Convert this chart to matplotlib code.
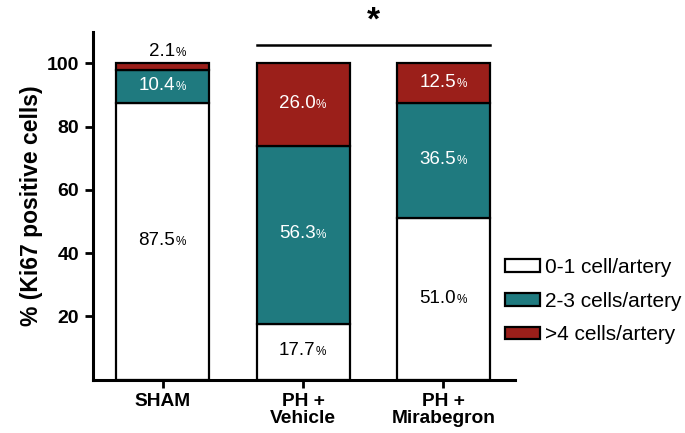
import matplotlib.pyplot as plt
import numpy as np

plt.rcParams['font.family'] = ['Liberation Sans', 'DejaVu Sans']

# groups and the share of arteries in each Ki67 class (%)
groups = ['SHAM', 'PH +\nVehicle', 'PH +\nMirabegron']
low = [87.5, 17.7, 51.0]     # 0-1 cell/artery
mid = [10.4, 56.3, 36.5]     # 2-3 cells/artery
high = [2.1, 26.0, 12.5]     # >4 cells/artery
series_names = ['0-1 cell/artery', '2-3 cells/artery', '>4 cells/artery']
yticks = [20, 40, 60, 80, 100]

colors = ['#ffffff', '#1f7a7f', '#9b1f1a']
txtcol = ['black', 'white', 'white']

fig = plt.figure(figsize=(6.85, 4.33), dpi=100)
ax = fig.add_axes([0.1358, 0.1233, 0.6162, 0.8035])

x = np.arange(len(groups))
w = 0.662
bottom = np.zeros(len(groups))
for vals, c, tc, name in zip([low, mid, high], colors, txtcol, series_names):
    vals = np.array(vals)
    ax.bar(x, vals, w, bottom=bottom, color=c, edgecolor='black',
           linewidth=1.6, label=name, zorder=2)
    for xi, b, v in zip(x, bottom, vals):
        if v < 5:
            # too thin for text inside, put it above the bar
            yy, col, dy = b + v, 'black', 5
        else:
            yy, col, dy = b + v / 2, tc, -2.6
        # number and a smaller % sign sharing one baseline
        ax.annotate('%.1f' % v, (xi, yy), xytext=(9, dy),
                    textcoords='offset points', color=col, fontsize=13.5,
                    ha='right', va='baseline')
        ax.annotate('%', (xi, yy), xytext=(9.3, dy),
                    textcoords='offset points', color=col, fontsize=8.5,
                    ha='left', va='baseline')
    bottom += vals

# significance bar between the two PH groups
ax.plot([1 - w / 2, 2 + w / 2], [105.7, 105.7], color='black', lw=1.8,
        clip_on=False)
ax.text(1.5, 113.5, '*', fontsize=24, fontweight='bold', ha='center',
        va='center')

ax.set_xlim(-0.495, 2.51)
ax.set_ylim(0, 110)
ax.set_xticks(x)
ax.set_xticklabels(groups, fontsize=13.8, fontweight='bold', linespacing=1.0)
ax.set_yticks(yticks)
ax.set_yticklabels([str(t) for t in yticks], fontsize=14, fontweight='bold')
ax.set_ylabel('% (Ki67 positive cells)', fontsize=16.5, fontweight='bold',
              labelpad=3)
ax.tick_params(width=2, length=6, pad=4)

for s in ['top', 'right']:
    ax.spines[s].set_visible(False)
for s in ['left', 'bottom']:
    ax.spines[s].set_linewidth(2.2)

ax.legend(loc='upper left', bbox_to_anchor=(505 / 685, 0.404),
          bbox_transform=fig.transFigure, frameon=False, borderaxespad=0,
          borderpad=0, fontsize=15, handlelength=1.68, handleheight=0.55,
          handletextpad=0.25, labelspacing=0.7)

fig.savefig('out.png', dpi=100)
